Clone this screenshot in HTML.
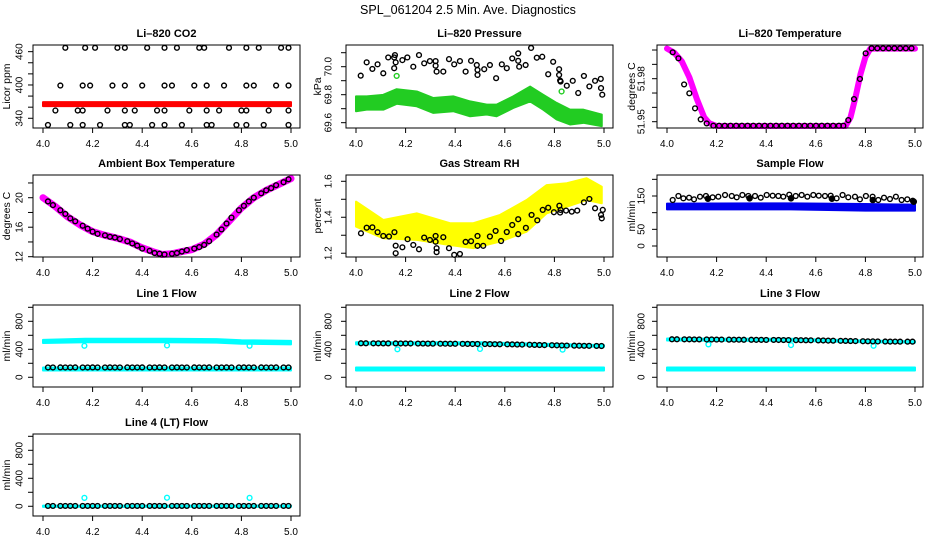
<!DOCTYPE html>
<html><head><meta charset="utf-8"><title>SPL_061204 Diagnostics</title>
<style>
html,body{margin:0;padding:0;background:#fff;}
svg{display:block;font-family:"Liberation Sans",Arial,sans-serif;}
</style></head>
<body>
<svg id="chart" xmlns="http://www.w3.org/2000/svg" width="936" height="540" viewBox="0 0 936 540">
<rect x="0" y="0" width="936" height="540" fill="#fff"/>
<text x="468" y="14" font-size="12.5" text-anchor="middle">SPL_061204  2.5 Min. Ave. Diagnostics</text>
</svg>
<script>
// ---------- data ----------
const xTicks=[4.0,4.2,4.4,4.6,4.8,5.0];
const xTickLabels=["4.0","4.2","4.4","4.6","4.8","5.0"];
// CO2
const co2X=[4.09,4.17,4.21,4.30,4.33,4.42,4.49,4.54,4.63,4.65,4.75,4.82,4.87,4.96,4.99,
 4.07,4.16,4.19,4.28,4.33,4.40,4.49,4.52,4.61,4.66,4.73,4.82,4.85,4.94,4.99,
 4.05,4.14,4.16,4.26,4.33,4.37,4.46,4.49,4.59,4.66,4.71,4.80,4.82,4.91,4.99,
 4.02,4.11,4.16,4.23,4.33,4.35,4.44,4.49,4.56,4.66,4.68,4.78,4.82,4.89,4.99];
const co2Y=[467,467,467,467,467,467,467,467,467,467,467,467,467,467,467,
 399,399,399,399,399,399,399,399,399,399,399,399,399,399,399,
 354,354,354,354,354,354,354,354,354,354,354,354,354,354,354,
 328,328,328,328,328,328,328,328,328,328,328,328,328,328,328];
const co2BandX=[4.0,5.0];
const co2BandLo=[362,362];
const co2BandHi=[369,369];
// Pressure
const presX=[4.019,4.043,4.066,4.087,4.110,4.130,4.154,4.154,4.157,4.160,4.187,4.207,4.231,4.254,4.275,4.298,4.321,4.321,4.325,4.352,4.375,4.396,4.419,4.442,4.464,4.487,4.490,4.490,4.517,4.540,4.565,4.588,4.608,4.630,4.654,4.654,4.658,4.684,4.706,4.729,4.751,4.775,4.795,4.819,4.819,4.823,4.825,4.850,4.874,4.896,4.919,4.941,4.964,4.987,4.988,4.993];
const presY=[69.936,70.031,69.984,70.017,69.953,70.066,70.066,69.989,70.083,70.031,70.047,70.066,70.000,70.083,70.024,70.040,70.040,70.007,69.965,69.965,70.054,70.017,70.040,69.965,70.042,70.012,69.977,69.941,69.982,70.012,69.918,70.017,69.989,70.059,70.095,70.042,70.000,70.012,70.134,70.064,70.071,69.946,70.035,69.982,69.941,69.901,69.894,69.864,69.899,69.812,69.934,69.859,69.899,69.913,69.847,69.800];
const presGreenX=[4.164,4.829];
const presGreenY=[69.934,69.823];
const presBandX=[4.0,4.043,4.11,4.164,4.245,4.312,4.392,4.46,4.527,4.567,4.634,4.702,4.755,4.809,4.863,4.917,4.991];
const presBandHi=[69.788,69.788,69.799,69.839,69.823,69.776,69.788,69.752,69.729,69.729,69.788,69.858,69.799,69.741,69.693,69.693,69.658];
const presBandLo=[69.682,69.693,69.693,69.735,69.717,69.670,69.682,69.646,69.658,69.646,69.705,69.752,69.693,69.623,69.587,69.599,69.575];
// Li-820 temperature
const tempLineX=[4.00,4.03,4.06,4.09,4.12,4.15,4.17,4.20,4.72,4.74,4.76,4.78,4.80,4.82,5.00];
const tempLineY=[52.001,51.998,51.992,51.981,51.966,51.953,51.949,51.947,51.947,51.953,51.967,51.983,51.995,52.001,52.001];
const tempPtX=[4.023,4.046,4.069,4.090,4.113,4.136,4.160,4.187,4.210,4.233,4.256,4.279,4.302,4.325,4.348,4.371,4.394,4.417,4.440,4.463,4.486,4.509,4.532,4.555,4.578,4.601,4.624,4.647,4.670,4.693,4.711,4.731,4.754,4.778,4.801,4.825,4.848,4.871,4.894,4.917,4.940,4.963,4.986];
const tempPtY=[51.9984,51.9942,51.976,51.9698,51.9593,51.9516,51.9488,51.9472,51.9472,51.9472,51.9472,51.9472,51.9472,51.9472,51.9472,51.9472,51.9472,51.9472,51.9472,51.9472,51.9472,51.9472,51.9472,51.9472,51.9472,51.9472,51.9472,51.9472,51.9472,51.9472,51.9472,51.9511,51.9658,51.9798,51.9977,52.0012,52.0012,52.0012,52.0012,52.0012,52.0012,52.0012,52.0012];
// Ambient box temperature
const ambLineX=[4.0,4.05,4.1,4.15,4.2,4.25,4.3,4.35,4.4,4.45,4.48,4.52,4.56,4.6,4.65,4.7,4.75,4.8,4.85,4.9,4.95,5.0];
const ambLineY=[20.0,18.8,17.4,16.3,15.4,14.9,14.5,14.0,13.2,12.6,12.3,12.4,12.7,12.95,13.7,15.0,16.8,18.6,20.0,21.0,21.8,22.6];
const times=[4.02,4.04,4.07,4.09,4.11,4.13,4.16,4.18,4.20,4.22,4.25,4.27,4.29,4.31,4.34,4.36,4.38,4.40,4.43,4.45,4.47,4.49,4.52,4.54,4.56,4.58,4.61,4.63,4.65,4.67,4.70,4.72,4.74,4.76,4.79,4.81,4.83,4.85,4.88,4.90,4.92,4.94,4.97,4.99];
const ambPtY=[19.5,19.0,18.3,17.8,17.2,16.8,16.2,15.8,15.4,15.1,14.9,14.7,14.6,14.4,14.1,13.8,13.5,13.1,12.8,12.5,12.4,12.3,12.4,12.5,12.7,12.9,13.1,13.3,13.6,14.1,15.0,15.7,16.5,17.3,18.3,18.9,19.5,20.0,20.6,21.0,21.3,21.7,22.1,22.5];
// Gas stream RH
const rhBandX=[4.0,4.11,4.245,4.379,4.473,4.581,4.688,4.769,4.850,4.930,4.991];
const rhBandHi=[1.487,1.385,1.422,1.367,1.367,1.413,1.496,1.579,1.589,1.617,1.57];
const rhBandLo=[1.348,1.283,1.274,1.246,1.228,1.265,1.32,1.422,1.459,1.496,1.478];
const rhX=[4.020,4.043,4.066,4.087,4.110,4.133,4.155,4.160,4.160,4.187,4.208,4.231,4.254,4.275,4.298,4.321,4.321,4.325,4.325,4.352,4.375,4.396,4.419,4.442,4.464,4.490,4.490,4.513,4.540,4.563,4.585,4.608,4.630,4.654,4.654,4.685,4.708,4.731,4.753,4.775,4.798,4.820,4.823,4.825,4.847,4.870,4.892,4.919,4.941,4.964,4.988,4.991,4.995];
const rhY=[1.311,1.342,1.344,1.317,1.296,1.293,1.317,1.242,1.200,1.233,1.278,1.246,1.222,1.287,1.274,1.296,1.264,1.228,1.206,1.289,1.228,1.191,1.196,1.263,1.267,1.296,1.241,1.241,1.293,1.324,1.268,1.318,1.357,1.306,1.389,1.341,1.413,1.383,1.441,1.453,1.428,1.464,1.426,1.441,1.437,1.431,1.437,1.483,1.502,1.450,1.413,1.394,1.441];
// Sample flow
const sfX=[4.023,4.046,4.066,4.089,4.109,4.133,4.157,4.184,4.207,4.234,4.261,4.281,4.304,4.328,4.355,4.378,4.402,4.426,4.449,4.469,4.493,4.519,4.543,4.566,4.590,4.612,4.637,4.660,4.684,4.708,4.731,4.758,4.778,4.802,4.829,4.852,4.875,4.899,4.923,4.946,4.969,4.991];
const sfY=[138,150,143,145,140,148,150,146,148,153,150,146,153,150,150,145,153,151,150,148,154,150,153,148,153,151,150,151,143,153,146,148,140,150,148,138,145,141,148,138,140,136];
const sfDotX=[4.165,4.333,4.5,4.665,4.83,4.995];
const sfDotY=[142,143,143,142,138,133];
const sfBandX=[4.0,4.5,4.8,5.0];
const sfBandHi=[127,128,126,124];
const sfBandLo=[110,110,106,106];
// Line flows
const line1Y=[140,140,141,140,140,141,140,140,141,140,140,141,140,140,141,140,140,141,140,140,141,140,140,141,140,140,141,140,140,141,140,140,141,140,140,141,140,140,141,140,140,141,140,140];
const line2Y=[486,486,485,485,484,484,484,483,483,483,482,482,481,481,480,480,479,479,478,477,476,476,475,474,473,472,471,470,468,467,465,463,461,460,458,456,455,453,452,451,450,449,448,447];
const line3Y=[543,543,542,542,541,541,540,540,539,539,538,537,537,536,536,535,535,534,534,533,532,532,531,530,529,528,527,526,524,523,521,520,518,517,515,514,513,512,511,510,510,509,509,509];
const line4Y=[5,5,5,5,5,5,5,5,5,5,5,5,5,5,5,5,5,5,5,5,5,5,5,5,5,5,5,5,5,5,5,5,5,5,5,5,5,5,5,5,5,5,5,5];
const spikeX=[4.167,4.5,4.833];
const line1SpikeY=[450,455,450];
const line2SpikeY=[400,405,395];
const line3SpikeY=[470,460,450];
const line4SpikeY=[120,122,120];
const line1HiBandX=[4.0,4.17,4.5,4.7,4.8,5.0];
const line1HiBandHi=[535,550,550,545,530,520];
const line1HiBandLo=[490,500,500,495,480,470];
const line2HiBandX=[4.0,4.5,4.8,5.0];
const line2HiBandHi=[500,500,475,460];
const line2HiBandLo=[470,470,445,435];
const line3HiBandX=[4.0,4.5,4.8,5.0];
const line3HiBandHi=[555,550,525,515];
const line3HiBandLo=[525,520,500,495];
const lowBandX=[4.0,5.0];
const lowBandHi=[140,140];
const lowBandLo=[97,97];
const line4BandHi=[10,10];
const line4BandLo=[-8,-8];

// ---------- layout ----------
const NS='http://www.w3.org/2000/svg';
const svg=document.getElementById('chart');
const cols=[{left:33,right:300,x0:43,lab:20,ttl:7},{left:346,right:613,x0:356,lab:329,ttl:318},{left:657,right:923,x0:667,lab:642,ttl:632}];
const rows=[{top:45,bot:128},{top:175,bot:257},{top:305,bot:387},{top:434,bot:516}];
function mk(tag,attrs,parent){const e=document.createElementNS(NS,tag);for(const k in attrs)e.setAttribute(k,attrs[k]);(parent||svg).appendChild(e);return e;}

function makePanel(key,title,ylab,c,r,lo,hi,ticks,labels){
  const col=cols[c],row=rows[r];
  const p={key,col,row,lo,hi};
  p.xs=v=>col.x0+(v-4)*248;
  p.ys=v=>row.bot-(v-lo)/(hi-lo)*(row.bot-row.top);
  const g=mk('g',{});
  
  
  p.g=g;
  const t=mk('text',{x:(col.left+col.right)/2,y:row.top-8,'font-size':11,'font-weight':'bold','text-anchor':'middle'},g);
  t.textContent=title;
  
  
  const yl=mk('text',{x:col.ttl,y:(row.top+row.bot)/2,'font-size':10.5,'text-anchor':'middle','dominant-baseline':'central',transform:`rotate(-90 ${col.ttl} ${(row.top+row.bot)/2})`},g);
  yl.textContent=ylab;
  
  
  const ya=mk('line',{x1:col.left,x2:col.left,y1:p.ys(ticks[0]),y2:p.ys(ticks[ticks.length-1]),stroke:'#000','stroke-width':1},g);
  
  
  ticks.forEach((v,i)=>{
    const tk=mk('line',{x1:col.left-5,x2:col.left,y1:p.ys(v),y2:p.ys(v),stroke:'#000','stroke-width':1},g);
    
    
    if(labels[i]){
      const yy=p.ys(v);
      const tl=mk('text',{x:col.lab,y:yy,'font-size':10,'text-anchor':'middle','dominant-baseline':'central',transform:`rotate(-90 ${col.lab} ${yy})`},g);
      tl.textContent=labels[i];
      
      
    }
  });
  const xa=mk('line',{x1:p.xs(4),x2:p.xs(5),y1:row.bot,y2:row.bot,stroke:'#000','stroke-width':1},g);
  
  
  xTicks.forEach((v,i)=>{
    const tk=mk('line',{x1:p.xs(v),x2:p.xs(v),y1:row.bot,y2:row.bot+5,stroke:'#000','stroke-width':1},g);
    
    
    const tl=mk('text',{x:p.xs(v),y:row.bot+19,'font-size':10,'text-anchor':'middle'},g);
    tl.textContent=xTickLabels[i];
    
    
  });
  const plot=mk('g',{},g);
  
  
  p.plot=plot;
  p.finish=()=>{
    const box=mk('rect',{x:col.left,y:row.top,width:col.right-col.left,height:row.bot-row.top,fill:'none',stroke:'#000','stroke-width':1},g);
    
    
  };
  return p;
}
function band(p,xa,lo,hi,color,name){
  let pts=xa.map((x,i)=>p.xs(x)+','+p.ys(hi[i]));
  pts=pts.concat(xa.map((x,i)=>p.xs(x)+','+p.ys(lo[i])).reverse());
  const e=mk('polygon',{points:pts.join(' '),fill:color,stroke:color,'stroke-width':2,'stroke-linejoin':'round'},p.plot);
  
  
}
function thickLine(p,xa,ya,color,w,name){
  const e=mk('polyline',{points:xa.map((x,i)=>p.xs(x)+','+p.ys(ya[i])).join(' '),fill:'none',stroke:color,'stroke-width':w,'stroke-linecap':'round','stroke-linejoin':'round'},p.plot);
  
  
}
function scatter(p,xa,ya,color,name,filled){
  const g=mk('g',{},p.plot);
  
  
  xa.forEach((x,i)=>{
    const c=mk('circle',{cx:p.xs(x),cy:p.ys(ya[i]),r:filled?2.6:2.4,fill:filled?color:'none',stroke:color,'stroke-width':1.4},g);
    
    
  });
}

// ---------- panels ----------
let p;
p=makePanel('co2','Li\u2013820 CO2','Licor ppm',0,0,322.5,472,[340,360,380,400,420,440,460],['340','','','400','','','460']);
band(p,co2BandX,co2BandLo,co2BandHi,'#ff0000','co2-red-series');
scatter(p,co2X,co2Y,'#000','co2-black-series');
p.finish();

p=makePanel('pressure','Li\u2013820 Pressure','kPa',1,0,69.562,70.155,[69.6,69.7,69.8,69.9,70.0,70.1],['69.6','','69.8','','70.0','']);
band(p,presBandX,presBandLo,presBandHi,'#22cc22','pressure-green-series');
scatter(p,presGreenX,presGreenY,'#22cc22','pressure-green-outliers');
scatter(p,presX,presY,'#000','pressure-black-series');
p.finish();

p=makePanel('li820-temp','Li\u2013820 Temperature','degrees C',2,0,51.9456,52.0035,[51.95,51.96,51.97,51.98,51.99,52.00],['51.95','','','51.98','','']);
thickLine(p,tempLineX,tempLineY,'#ff00ff',6,'li820-temp-magenta-series');
scatter(p,tempPtX,tempPtY,'#000','li820-temp-black-series');
p.finish();

p=makePanel('ambient','Ambient Box Temperature','degrees C',0,1,11.96,23.08,[12,14,16,18,20,22],['12','','16','','20','']);
thickLine(p,ambLineX,ambLineY,'#ff00ff',7,'ambient-magenta-series');
scatter(p,times,ambPtY,'#000','ambient-black-series');
p.finish();

p=makePanel('rh','Gas Stream RH','percent',1,1,1.179,1.635,[1.2,1.3,1.4,1.5,1.6],['1.2','','1.4','','1.6']);
band(p,rhBandX,rhBandLo,rhBandHi,'#ffff00','rh-yellow-series');
scatter(p,rhX,rhY,'#000','rh-black-series');
p.finish();

p=makePanel('sample-flow','Sample Flow','ml/min',2,1,-33,213,[0,50,100,150,200],['0','50','','150','']);
band(p,sfBandX,sfBandLo,sfBandHi,'#0000ee','sample-flow-blue-series');
scatter(p,sfX,sfY,'#000','sample-flow-black-series');
scatter(p,sfDotX,sfDotY,'#000','sample-flow-black-dots',true);
p.finish();

const flowTicks=[0,200,400,600,800,1000], flowLabels=['0','','400','','800',''];
p=makePanel('line1','Line 1 Flow','ml/min',0,2,-139,1033,flowTicks,flowLabels);
band(p,line1HiBandX,line1HiBandLo,line1HiBandHi,'#00ffff','line1-cyan-high-series');
band(p,lowBandX,lowBandLo,lowBandHi,'#00ffff','line1-cyan-low-series');
scatter(p,spikeX,line1SpikeY,'#00ffff','line1-cyan-dips');
scatter(p,times,line1Y,'#000','line1-black-series');
p.finish();

p=makePanel('line2','Line 2 Flow','ml/min',1,2,-139,1033,flowTicks,flowLabels);
band(p,line2HiBandX,line2HiBandLo,line2HiBandHi,'#00ffff','line2-cyan-high-series');
band(p,lowBandX,lowBandLo,lowBandHi,'#00ffff','line2-cyan-low-series');
scatter(p,spikeX,line2SpikeY,'#00ffff','line2-cyan-dips');
scatter(p,times,line2Y,'#000','line2-black-series');
p.finish();

p=makePanel('line3','Line 3 Flow','ml/min',2,2,-139,1033,flowTicks,flowLabels);
band(p,line3HiBandX,line3HiBandLo,line3HiBandHi,'#00ffff','line3-cyan-high-series');
band(p,lowBandX,lowBandLo,lowBandHi,'#00ffff','line3-cyan-low-series');
scatter(p,spikeX,line3SpikeY,'#00ffff','line3-cyan-dips');
scatter(p,times,line3Y,'#000','line3-black-series');
p.finish();

p=makePanel('line4','Line 4 (LT) Flow','ml/min',0,3,-139,1033,flowTicks,flowLabels);
band(p,lowBandX,line4BandLo,line4BandHi,'#00ffff','line4-cyan-series');
scatter(p,spikeX,line4SpikeY,'#00ffff','line4-cyan-spikes');
scatter(p,times,line4Y,'#000','line4-black-series');
p.finish();
</script>
</body></html>
